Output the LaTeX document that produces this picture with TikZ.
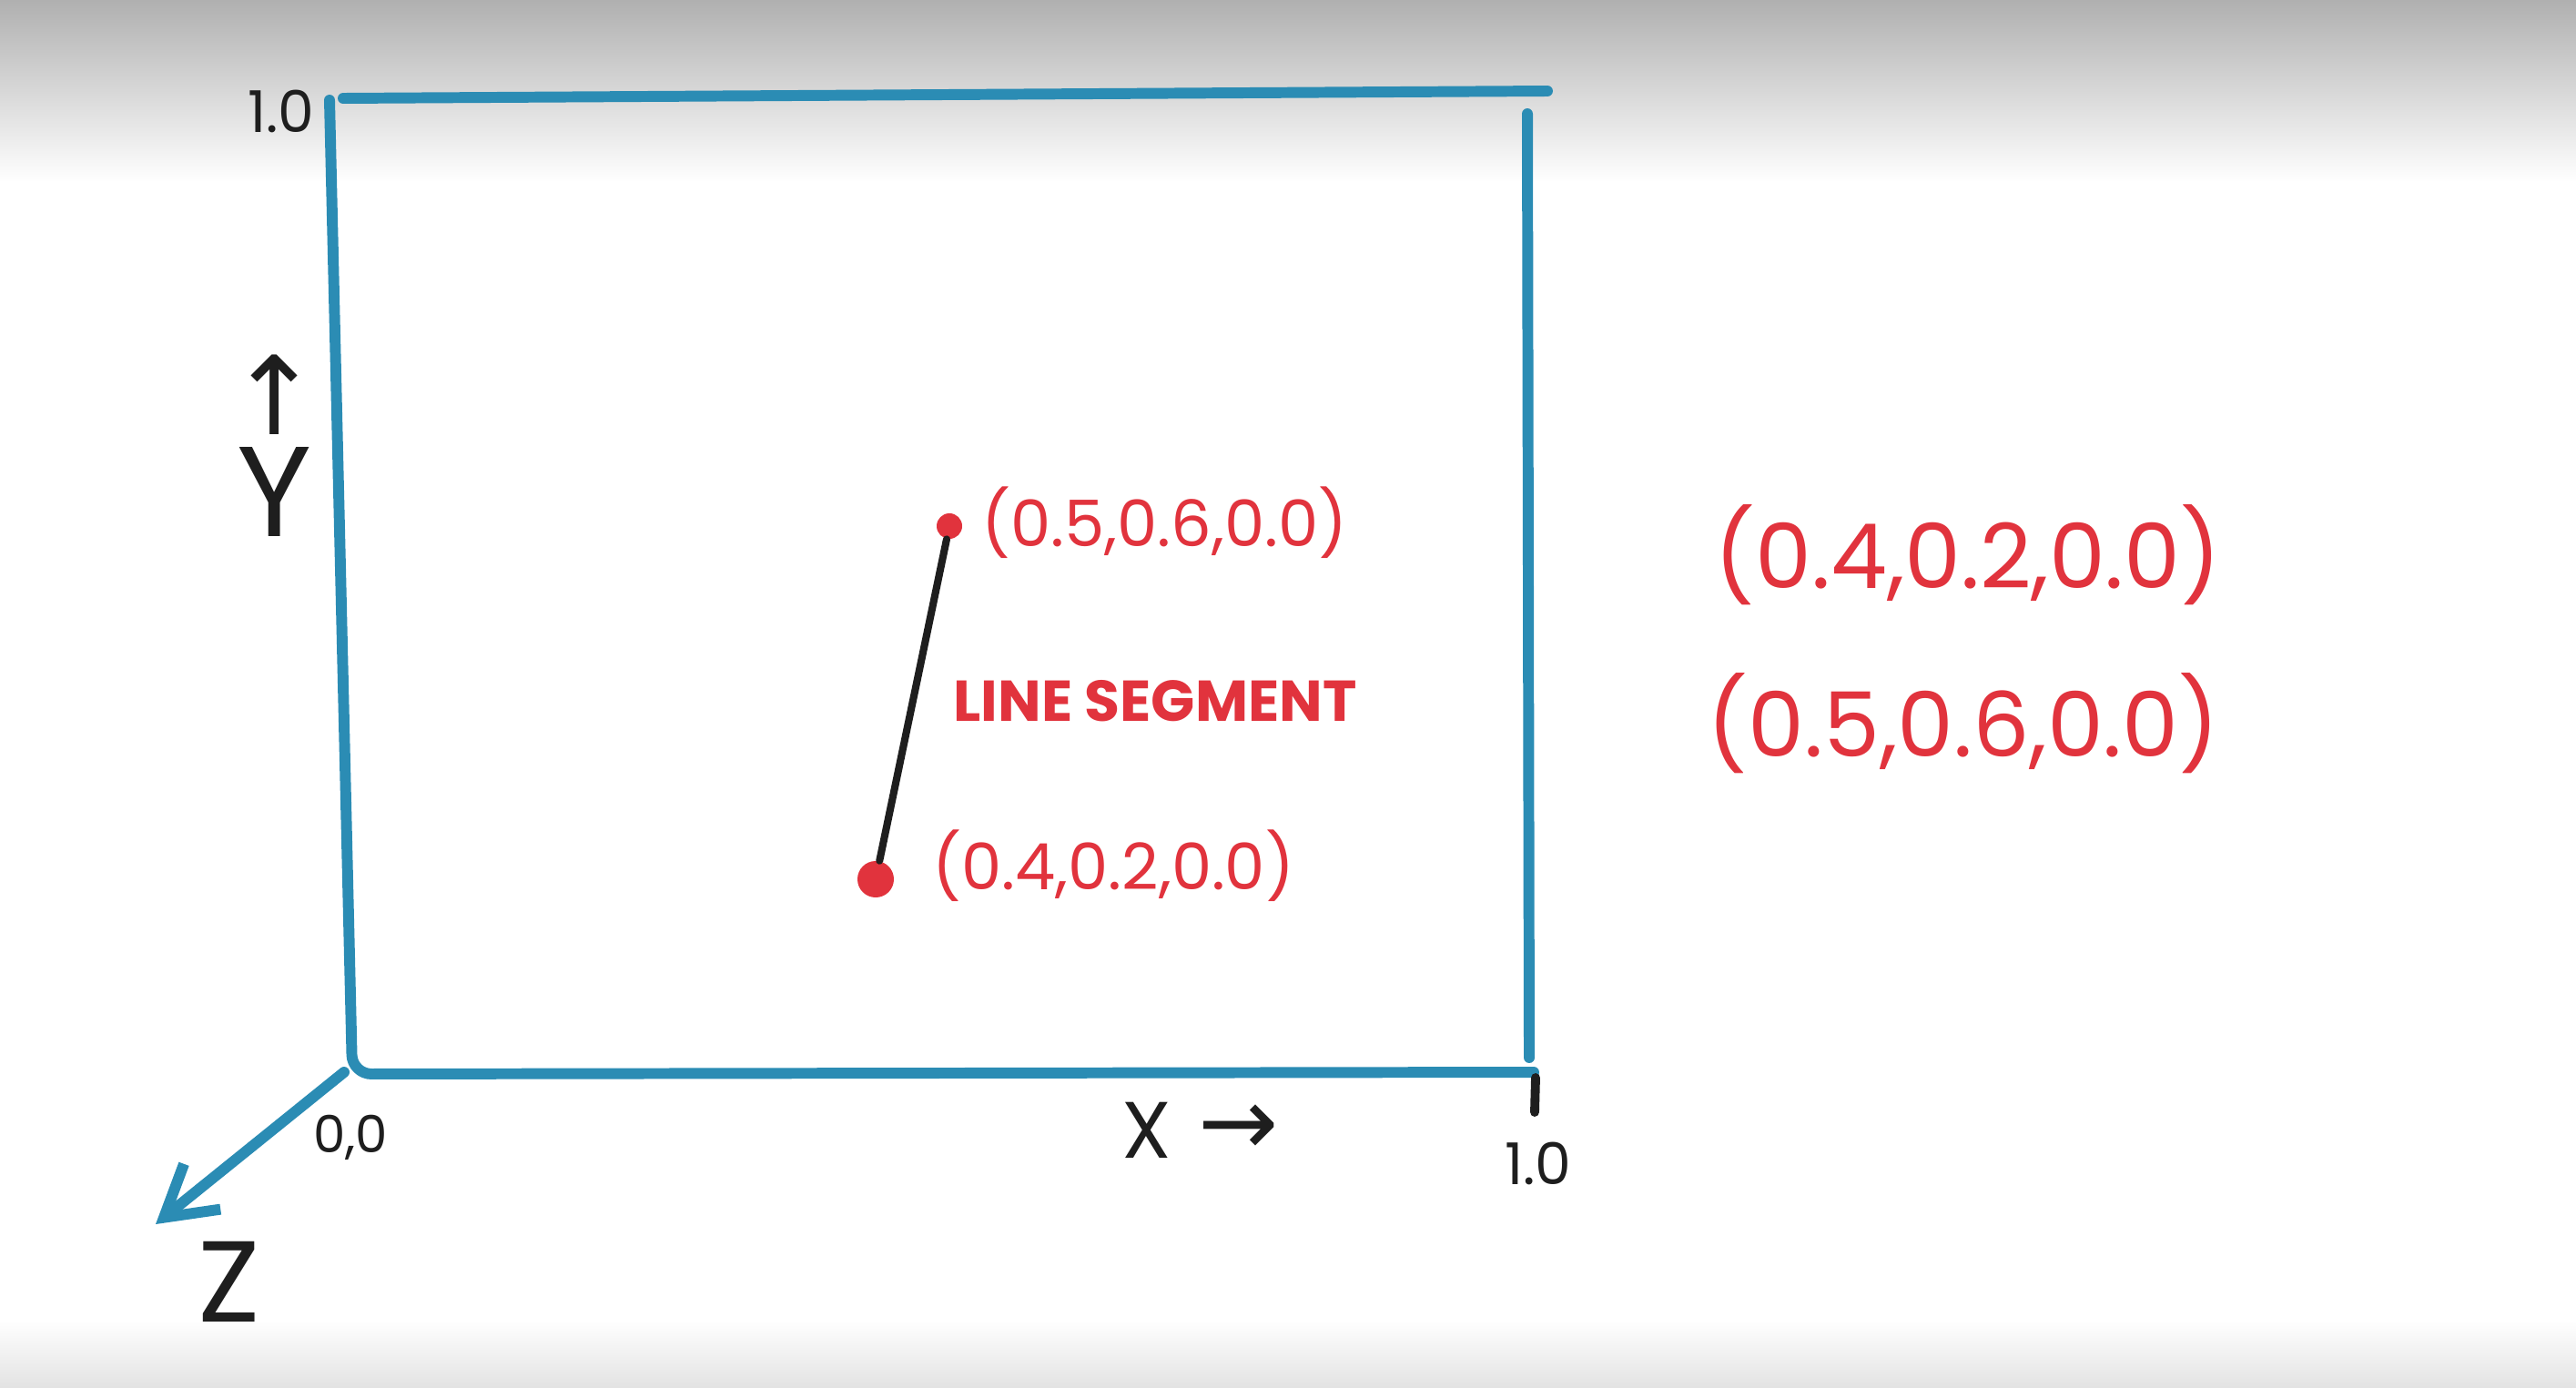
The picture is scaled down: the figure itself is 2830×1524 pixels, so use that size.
\documentclass[tikz,border=0pt]{standalone}
\usepackage{fontspec}
\setmainfont{Poppins}
\newfontfamily\glyphs{DejaVu Sans}
\usetikzlibrary{positioning,arrows.meta}
\definecolor{pen}    {HTML}{2B8CB4}
\definecolor{marker} {HTML}{E1333D}
\definecolor{ink}    {HTML}{1E1E1E}
\tikzset{
  % --- strokes
  axis/.style  = {draw=pen, line width=3.4pt, line cap=round, line join=round},
  seg/.style   = {draw=ink, line width=2.3pt, line cap=round},
  tickmark/.style = {draw=ink, line width=2.8pt, line cap=round},
  % --- nodes
  dot/.style   = {circle, fill=marker, inner sep=0pt},
  lbl/.style   = {text=ink, inner sep=0pt},
  coord/.style = {text=marker, inner sep=0pt},
}
\begin{document}
\begin{tikzpicture}[x=0.01cm, y=-0.01cm]
  \useasboundingbox (0,0) rectangle (2830,1524);
  \shade[top color=black!31, bottom color=white] (0,0) rectangle (2830,200);
  \shade[top color=white, bottom color=black!11] (0,1450) rectangle (2830,1524);

  % box corners
  \coordinate (lt) at (362,110);
  \coordinate (o)  at (387,1180);
  \coordinate (br) at (1685,1178);
  \coordinate (tl) at (377,108);
  \coordinate (tr) at (1700,100);
  \coordinate (rt) at (1678,125);
  \coordinate (rb) at (1680,1162);
  \coordinate (zs) at (378,1178);
  \coordinate (zt) at (171,1345);
  \coordinate (k1) at (1687,1184);
  \coordinate (k2) at (1686,1222);

  \draw[axis, rounded corners=6] (lt) -- (o) -- (br);
  \draw[axis] (tl) -- (tr);
  \draw[axis] (rt) -- (rb);
  \draw[axis, -{Straight Barb[length=0.54cm, width=0.64cm, line width=3.4pt]}] (zs) -- (zt);
  \draw[tickmark] (k1) -- (k2);

  % axis labels
  \node[lbl, font=\fontsize{18}{20}\selectfont] (ytop) at (309,122) {1.0};
  \node[lbl, font=\fontsize{40}{44}\selectfont] (ylbl) at (302,540) {Y};
  \node[lbl, font=\glyphs\fontsize{34}{36}\selectfont, above=0.12cm of ylbl] (yarr) {↑};
  \node[lbl, font=\fontsize{16}{18}\selectfont] (orig) at (385,1250) {0,0};
  \node[lbl, font=\fontsize{36}{40}\selectfont] (zlbl) at (252,1408) {Z};
  \node[lbl, font=\fontsize{25}{28}\selectfont] (xlbl) at (1260,1242) {X};
  \node[lbl, font=\glyphs\fontsize{30}{32}\selectfont, right=0.28cm of xlbl] (xarr) {→};
  \node[lbl, font=\fontsize{18}{20}\selectfont] (xend) at (1690,1278) {1.0};

  % the segment
  \node[dot, minimum size=0.28cm] (p1) at (1043,578) {};
  \node[dot, minimum size=0.40cm] (p2) at (962,966) {};
  \draw[seg] (p2) -- (p1);

  \node[coord, font=\fontsize{20}{24}\selectfont, anchor=west] (c1) at (1078,574) {(0.5,0.6,0.0)};
  \node[coord, font=\fontsize{18}{20}\selectfont\bfseries] (segl) at (1269,770) {LINE SEGMENT};
  \node[coord, font=\fontsize{20}{24}\selectfont, anchor=west] (c2) at (1024,951) {(0.4,0.2,0.0)};

  % the two points as a list
  \node[coord, font=\fontsize{28}{32}\selectfont] (r1) at (2162,610) {(0.4,0.2,0.0)};
  \node[coord, font=\fontsize{28}{32}\selectfont] (r2) at (2157,795) {(0.5,0.6,0.0)};
\end{tikzpicture}
\end{document}
